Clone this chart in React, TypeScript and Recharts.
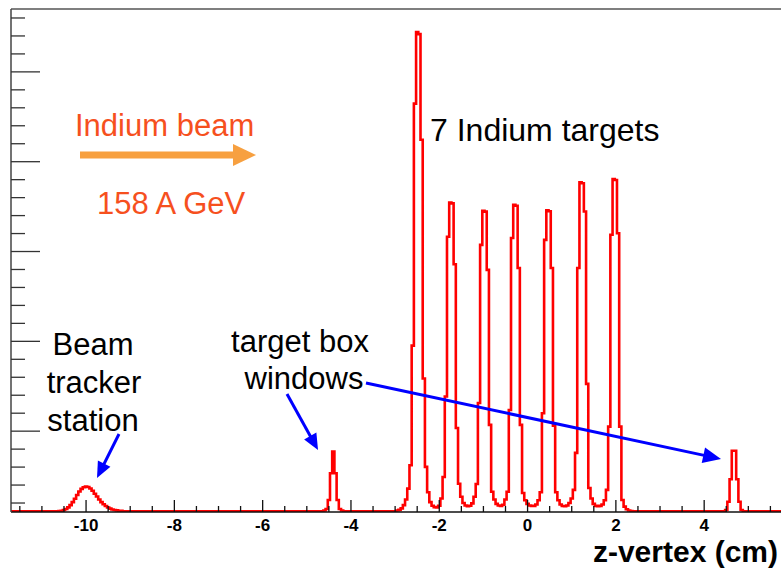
import { LineChart, Line, XAxis, YAxis } from "recharts";

// z-vertex histogram: 0.05 cm bins, only the non-flat regions are listed
const BIN_WIDTH = 0.05;
const BASELINE = 4;
const Z_MIN = -11.7;
const Z_MAX = 5.74;

// beam tracker station bump around -10 cm
const trackerStart = -10.625;
const trackerCounts = [
  5, 7, 11, 17, 26, 38, 55, 74, 95, 114, 129, 138, 141, 139, 131, 118, 102, 86,
  70, 55, 43, 33, 25, 19, 14, 11, 9, 7, 6,
];

// upstream target box window
const leftWindowStart = -4.625;
const leftWindowCounts = [8, 17, 67, 216, 336, 216, 67, 17, 8];

// the 7 indium targets
const targetsStart = -2.975;
const targetsCounts = [
  8, 12, 20, 38, 70, 130, 260, 926, 2273, 2671, 2660, 2072, 743, 251, 110, 55,
  35, 27, 26, 35, 75, 195, 643, 1532, 1723, 1718, 1379, 468, 157, 85, 50, 36,
  32, 35, 48, 85, 156, 607, 1487, 1677, 1672, 1348, 485, 113, 70, 45, 36, 34,
  40, 70, 113, 568, 1525, 1710, 1705, 1358, 485, 106, 65, 45, 36, 33, 34, 42,
  65, 110, 550, 1515, 1679, 1674, 1358, 480, 110, 65, 42, 33, 32, 36, 50, 75,
  123, 329, 1358, 1835, 1830, 1673, 713, 134, 75, 45, 34, 32, 34, 42, 65, 123,
  475, 1543, 1853, 1848, 1552, 475, 67, 30, 15, 8, 5,
];

// downstream target box window
const rightWindowStart = 4.475;
const rightWindowCounts = [11, 57, 182, 341, 341, 182, 57, 11];

const xTicks = [
  -11.5, -11, -10.5, -10, -9.5, -9, -8.5, -8, -7.5, -7, -6.5, -6, -5.5, -5,
  -4.5, -4, -3.5, -3, -2.5, -2, -1.5, -1, -0.5, 0, 0.5, 1, 1.5, 2, 2.5, 3,
  3.5, 4, 4.5, 5, 5.5,
];
const xMajorTicks = [-10, -8, -6, -4, -2, 0, 2, 4];

const yTicks = [
  50, 150, 250, 350, 450, 550, 650, 750, 850, 950, 1050, 1150, 1250, 1350,
  1450, 1550, 1650, 1750, 1850, 1950, 2050, 2150, 2250, 2350, 2450, 2550,
  2650, 2750,
];
const yMajorTicks = [450, 950, 1450, 1950, 2450];

const FONT = '"Liberation Sans", Arial, Helvetica, sans-serif';
const W = 781;
const H = 569;
const X_AXIS_H = 57;
const PLOT_LEFT = 11;
const PLOT_BOTTOM = H - X_AXIS_H;

const buildHistogram = () => {
  const regions = [
    { start: trackerStart, counts: trackerCounts },
    { start: leftWindowStart, counts: leftWindowCounts },
    { start: targetsStart, counts: targetsCounts },
    { start: rightWindowStart, counts: rightWindowCounts },
  ];
  const pts = [{ z: Z_MIN, n: BASELINE }];
  regions.forEach((r) => {
    r.counts.forEach((c, i) => {
      pts.push({ z: +(r.start + i * BIN_WIDTH).toFixed(3), n: c });
    });
    pts.push({ z: +(r.start + r.counts.length * BIN_WIDTH).toFixed(3), n: BASELINE });
  });
  pts.push({ z: Z_MAX, n: BASELINE });
  return pts;
};

// ROOT style: ticks point into the frame
const XTick = (props: any) => {
  const { x, payload } = props;
  const major = xMajorTicks.includes(payload.value);
  return (
    <g>
      <line x1={x} x2={x} y1={PLOT_BOTTOM} y2={PLOT_BOTTOM - (major ? 12 : 6)} stroke="#111" strokeWidth={1.3} />
      {major && (
        <text x={x} y={PLOT_BOTTOM + 19} textAnchor="middle" fontFamily={FONT} fontWeight="bold" fontSize={17} fill="#000">
          {payload.value}
        </text>
      )}
    </g>
  );
};

const YTick = (props: any) => {
  const { y, payload } = props;
  const major = yMajorTicks.includes(payload.value);
  return <line x1={PLOT_LEFT} x2={PLOT_LEFT + (major ? 29 : 14)} y1={y} y2={y} stroke="#333" strokeWidth={1.3} />;
};

const Arrow = ({ x1, y1, x2, y2, color, width, head, half }: any) => {
  const len = Math.hypot(x2 - x1, y2 - y1);
  const ux = (x2 - x1) / len;
  const uy = (y2 - y1) / len;
  const bx = x2 - ux * head;
  const by = y2 - uy * head;
  const pts = `${x2},${y2} ${bx - uy * half},${by + ux * half} ${bx + uy * half},${by - ux * half}`;
  return (
    <g>
      <line x1={x1} y1={y1} x2={bx + ux * 2} y2={by + uy * 2} stroke={color} strokeWidth={width} />
      <polygon points={pts} fill={color} />
    </g>
  );
};

const Annotations = () => (
  <svg width={W} height={H} style={{ position: "absolute", left: 0, top: 0, pointerEvents: "none" }}>
    <g fontFamily={FONT} fontSize={31}>
      <text x={75} y={136} fill="#f6501e">Indium beam</text>
      <text x={97} y={214} fill="#f6501e">158 A GeV</text>
      <text x={430} y={141} fontSize={32} fill="#000">7 Indium targets</text>
      <text x={93} y={355} textAnchor="middle" fill="#000">Beam</text>
      <text x={94} y={393} textAnchor="middle" fill="#000">tracker</text>
      <text x={93} y={431} textAnchor="middle" fill="#000">station</text>
      <text x={300} y={352} textAnchor="middle" fill="#000">target box</text>
      <text x={304} y={389} textAnchor="middle" fill="#000">windows</text>
    </g>
    <text x={778} y={562} textAnchor="end" fontFamily={FONT} fontWeight="bold" fontSize={30} fill="#000">
      z-vertex (cm)
    </text>
    <Arrow x1={80} y1={155} x2={256} y2={155} color="#f7a040" width={7} head={23} half={11} />
    <Arrow x1={119} y1={434} x2={97} y2={478} color="#0000ff" width={3} head={16} half={7} />
    <Arrow x1={287} y1={394} x2={318} y2={450} color="#0000ff" width={3} head={16} half={7} />
    <Arrow x1={366} y1={383} x2={721} y2={459} color="#0000ff" width={3} head={18} half={8} />
  </svg>
);

const App = () => {
  const data = buildHistogram();
  return (
    <div style={{ position: "fixed", left: 0, top: 0, width: W, height: H, background: "#fff" }}>
      <LineChart width={W} height={H} data={data} margin={{ top: 0, right: 0, bottom: 0, left: 1 }}>
        <XAxis
          dataKey="z"
          type="number"
          domain={[Z_MIN, Z_MAX]}
          ticks={xTicks}
          interval={0}
          tick={<XTick />}
          tickLine={false}
          height={X_AXIS_H}
          axisLine={{ stroke: "#111", strokeWidth: 1.5 }}
          allowDataOverflow
        />
        <XAxis
          xAxisId="top"
          orientation="top"
          dataKey="z"
          type="number"
          domain={[Z_MIN, Z_MAX]}
          height={9}
          tick={false}
          tickLine={false}
          axisLine={{ stroke: "#555", strokeWidth: 1.5 }}
          allowDataOverflow
        />
        <YAxis
          type="number"
          domain={[0, 2800]}
          ticks={yTicks}
          interval={0}
          width={10}
          tick={<YTick />}
          tickLine={false}
          axisLine={{ stroke: "#444", strokeWidth: 1.5 }}
          allowDataOverflow
        />
        <Line
          dataKey="n"
          type="stepAfter"
          stroke="#ff0000"
          strokeWidth={2.6}
          dot={false}
          isAnimationActive={false}
        />
      </LineChart>
      <Annotations />
    </div>
  );
};

export default App;
